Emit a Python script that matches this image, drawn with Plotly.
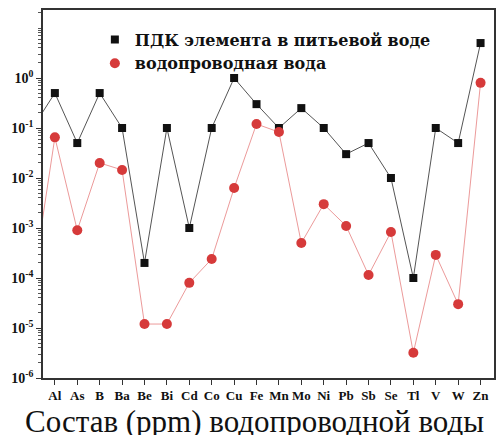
import plotly.graph_objects as go

# Elements (first entry is an off-range element whose line segment enters from the left edge)
elements = ["", "Al", "As", "B", "Ba", "Be", "Bi", "Cd", "Co", "Cu", "Fe",
            "Mn", "Mo", "Ni", "Pb", "Sb", "Se", "Tl", "V", "W", "Zn"]

pdk_values = [0.1, 0.5, 0.05, 0.5, 0.1, 0.0002, 0.1, 0.001, 0.1, 1.0, 0.3,
              0.1, 0.25, 0.1, 0.03, 0.05, 0.01, 0.0001, 0.1, 0.05, 5.0]

tap_values = [7e-5, 0.065, 0.0009, 0.02, 0.0145, 1.2e-5, 1.2e-5, 8e-5, 2.4e-4, 0.0063, 0.12,
              0.083, 5e-4, 0.003, 0.0011, 1.15e-4, 8.3e-4, 3.2e-6, 2.9e-4, 3e-5, 0.8]

series_names = ["ПДК элемента в питьевой воде", "водопроводная вода"]
x_title = "Состав (ppm) водопроводной воды"
y_tick_exps = [0, -1, -2, -3, -4, -5, -6]

x_idx = [i - 1 for i in range(len(elements))]
tick_pos = [x for x, e in zip(x_idx, elements) if e]
tick_lab = [e for e in elements if e]

pdk_marker = dict(symbol="square", size=8, color="#111111")
tap_marker = dict(symbol="circle", size=10, color="#d63a3a")

fig = go.Figure()
fig.add_trace(go.Scatter(
    x=x_idx, y=pdk_values, mode="lines+markers", showlegend=False,
    line=dict(color="#555555", width=1), marker=pdk_marker,
))
fig.add_trace(go.Scatter(
    x=x_idx, y=tap_values, mode="lines+markers", showlegend=False,
    line=dict(color="#ec9a9a", width=1), marker=tap_marker,
))
# legend entries (markers only, as in the reference)
fig.add_trace(go.Scatter(x=[None], y=[None], mode="markers", name=series_names[0],
                         marker=pdk_marker))
fig.add_trace(go.Scatter(x=[None], y=[None], mode="markers", name=series_names[1],
                         marker=tap_marker))

serif = "Liberation Serif"
fig.update_layout(
    width=500, height=435,
    margin=dict(l=43, r=4, t=10, b=57),
    paper_bgcolor="white", plot_bgcolor="white",
    showlegend=True,
    legend=dict(x=0.115, y=0.966, xanchor="left", yanchor="top",
                bgcolor="rgba(0,0,0,0)", tracegroupgap=0,
                font=dict(family="DejaVu Serif", size=16, color="#111111", weight="bold"),
                itemwidth=30),
    font=dict(family=serif, color="#111111"),
    annotations=[dict(text=x_title, xref="paper", yref="paper",
                      x=0.468, y=-0.118, xanchor="center", yanchor="middle",
                      showarrow=False,
                      font=dict(family=serif, size=31, color="#111111"))],
)
fig.update_xaxes(
    range=[-0.53, 19.6], tickmode="array", tickvals=tick_pos, ticktext=tick_lab,
    showgrid=False, zeroline=False,
    showline=True, linecolor="#333333", linewidth=1.5, mirror=True,
    ticks="outside", ticklen=5, tickcolor="#333333",
    tickfont=dict(family=serif, size=13, color="#111111", weight="bold"),
)
fig.update_yaxes(
    type="log", range=[-6, 1.36],
    tickmode="array", tickvals=[10.0 ** e for e in y_tick_exps],
    ticktext=["10<sup>%d</sup>" % e for e in y_tick_exps],
    showgrid=False, zeroline=False,
    showline=True, linecolor="#333333", linewidth=1.5, mirror=True,
    ticks="outside", ticklen=5, tickcolor="#333333",
    minor=dict(ticks="outside", ticklen=3, tickcolor="#555555", showgrid=False,
               dtick="D1"),
    tickfont=dict(family=serif, size=14, color="#111111", weight="bold"),
)

fig.write_html("out.html")
